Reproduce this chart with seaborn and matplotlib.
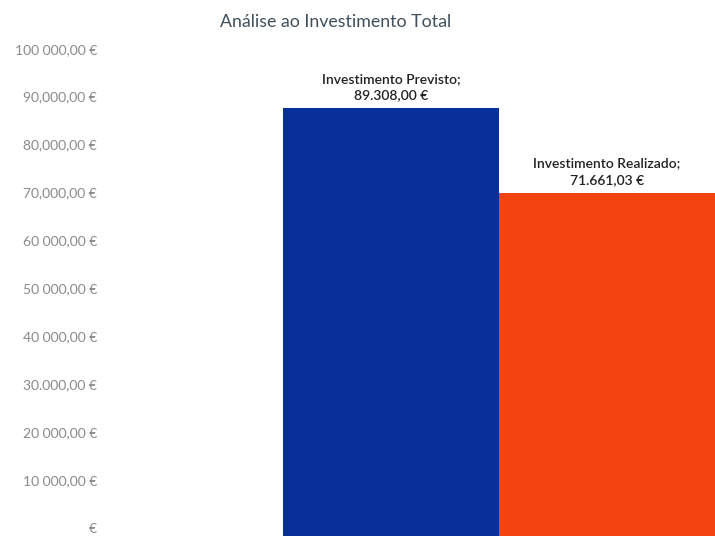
import matplotlib
matplotlib.use("Agg")
import matplotlib.pyplot as plt
import matplotlib.transforms as mtrans
import seaborn as sns
import pandas as pd

categories = ["Investimento Previsto", "Investimento Realizado"]
values = [89308.00, 71661.03]
value_labels = ["89.308,00 €", "71.661,03 €"]
tick_values = [0, 10000, 20000, 30000, 40000, 50000, 60000, 70000, 80000, 90000, 100000]
tick_labels = ["€", "10 000,00 €", "20 000,00 €", "30.000,00 €", "40 000,00 €", "50 000,00 €",
               "60 000,00 €", "70,000,00 €", "80,000,00 €", "90,000,00 €", "100 000,00 €"]
colors = ["#07309b", "#f4430f"]

sns.set_theme(style="white")
plt.rcParams["font.family"] = ["Lato", "DejaVu Sans"]

df = pd.DataFrame({"cat": categories, "val": values})

fig = plt.figure(figsize=(7.15, 5.42), dpi=100)
ax = fig.add_axes([283/715, 1 - 536/542, 1 - 283/715, (536 - 57)/542])
sns.barplot(data=df, x="cat", y="val", hue="cat", palette=colors, width=1.0,
            dodge=False, legend=False, ax=ax, saturation=1, linewidth=0)

ax.set_xlim(-0.5, 1.5)
ax.set_ylim(0, 100000)
ax.set_yticks(tick_values)
ax.set_yticklabels(tick_labels, color="#8a8a8a", fontsize=10)
ax.tick_params(axis="y", length=0, pad=134)
ax.set_xticks([])
ax.set_xlabel("")
ax.set_ylabel("")
for s in ax.spines.values():
    s.set_visible(False)

shift = mtrans.ScaledTranslation(0, 6/72, fig.dpi_scale_trans)
for lbl in ax.get_yticklabels():
    lbl.set_transform(lbl.get_transform() + shift)

for i, (c, v, lab) in enumerate(zip(categories, values, value_labels)):
    ax.annotate(f"{c};\n{lab}", xy=(i, v), xytext=(0, 5), textcoords="offset points",
                ha="center", va="bottom", fontsize=10, color="#222222",
                fontweight="semibold", linespacing=1.45)

fig.text(336/715, 1 - 22/542, "Análise ao Investimento Total", ha="center", va="center",
         fontsize=12.8, color="#3f4f5c")

fig.savefig("out.png", dpi=100)
